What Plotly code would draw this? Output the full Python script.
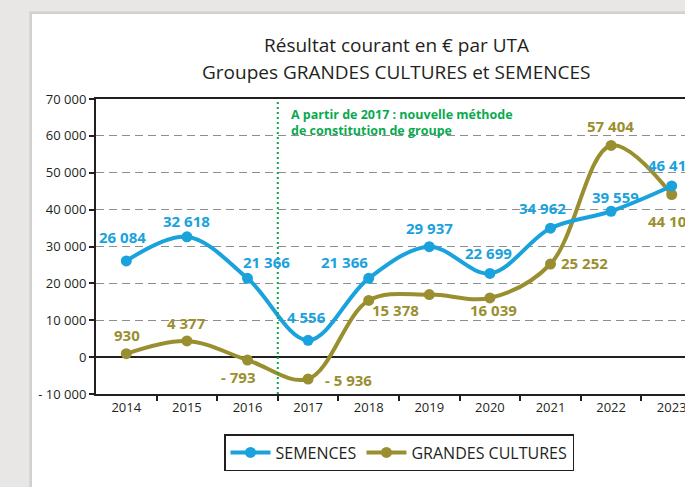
import plotly.graph_objects as go

# data
years = [2014, 2015, 2016, 2017, 2018, 2019, 2020, 2021, 2022, 2023]
semences = [26084, 32618, 21366, 4556, 21366, 29937, 22699, 34962, 39559, 46414]
grandes_cultures = [930, 4377, -793, -5936, 15378, 16950, 16039, 25252, 57404, 44103]
semences_labels = ["26 084", "32 618", "21 366", "4 556", "21 366",
                   "29 937", "22 699", "34 962", "39 559", "46 414"]
gc_labels = ["930", "4 377", "- 793", "- 5 936", "15 378",
             "", "16 039", "25 252", "57 404", "44 103"]
y_tickvals = [-10000, 0, 10000, 20000, 30000, 40000, 50000, 60000, 70000]
y_ticktext = ["- 10 000", "0", "10 000", "20 000", "30 000",
              "40 000", "50 000", "60 000", "70 000"]

BLUE = "#1aa2dc"
OLIVE = "#9a8f30"
GREEN = "#09aa4f"
INK = "#231f20"
FONT = "Open Sans"

# pixel geometry of the plot area
W, H = 685, 487
LEFT, TOP, BOTTOM = 96, 99, 394
PLOT_W = W - LEFT
PLOT_H = BOTTOM - TOP
BAND = 60.6


def px_x(px):
    return (px - LEFT) / PLOT_W


def px_y(py):
    return (BOTTOM - py) / PLOT_H


# label offsets (dx, dy) in pixels from each marker
sem_offsets = [(-4, -24), (0, -16), (19, -16), (-2, -23), (-24, -16),
               (0, -19), (-1, -20), (-8, -20), (4, -14), (0, -21)]
gc_offsets = [(1, -19), (0, -18), (-10, 17), (40, 1), (27, 10),
              (0, 0), (4, 12), (34, -1), (-1, -19), (0, 26)]

x_range = [years[0] - 0.5, years[0] - 0.5 + PLOT_W / BAND]
boundaries = [y + 0.5 for y in years[:-1]]
zero_pos = (0 - y_tickvals[0]) / (y_tickvals[-1] - y_tickvals[0])

fig = go.Figure()

fig.add_trace(go.Scatter(
    x=years, y=grandes_cultures, name="GRANDES CULTURES",
    mode="lines+markers", line=dict(color=OLIVE, width=4, shape="spline", smoothing=1),
    marker=dict(size=11, color=OLIVE), legendrank=2, hoverinfo="skip"))
fig.add_trace(go.Scatter(
    x=years, y=semences, name="SEMENCES",
    mode="lines+markers", line=dict(color=BLUE, width=4, shape="spline", smoothing=1),
    marker=dict(size=11, color=BLUE), legendrank=1, hoverinfo="skip"))

annotations = []
for x, v, t, (dx, dy) in zip(years, semences, semences_labels, sem_offsets):
    annotations.append(dict(x=x, y=v, text=t, showarrow=False, xshift=dx, yshift=-dy,
                            font=dict(family=FONT, size=15, color=BLUE, weight="bold")))
for x, v, t, (dx, dy) in zip(years, grandes_cultures, gc_labels, gc_offsets):
    if t:
        annotations.append(dict(x=x, y=v, text=t, showarrow=False, xshift=dx, yshift=-dy,
                                font=dict(family=FONT, size=15, color=OLIVE, weight="bold")))

# title
annotations.append(dict(xref="paper", yref="paper", x=px_x(396), y=px_y(45),
                        text="Résultat courant en € par UTA", showarrow=False,
                        xanchor="center", yanchor="middle",
                        font=dict(family=FONT, size=19, color=INK)))
annotations.append(dict(xref="paper", yref="paper", x=px_x(396), y=px_y(72),
                        text="Groupes GRANDES CULTURES et SEMENCES", showarrow=False,
                        xanchor="center", yanchor="middle",
                        font=dict(family=FONT, size=19, color=INK)))
# method note
annotations.append(dict(xref="paper", yref="paper", x=px_x(289), y=px_y(104),
                        text="A partir de 2017 : nouvelle méthode<br>de constitution de groupe",
                        showarrow=False, xanchor="left", yanchor="top", align="left",
                        font=dict(family=FONT, size=12.5, color=GREEN, weight="bold")))

shapes = [
    # card shadow and white card
    dict(type="rect", xref="paper", yref="paper", layer="below",
         x0=px_x(29), x1=px_x(W + 20), y0=px_y(H + 20), y1=px_y(11),
         fillcolor="#d9d8d6", line=dict(width=0)),
    dict(type="rect", xref="paper", yref="paper", layer="below",
         x0=px_x(30.5), x1=px_x(W + 20), y0=px_y(H + 20), y1=px_y(12.5),
         fillcolor="#cfcecc", line=dict(width=0)),
    dict(type="rect", xref="paper", yref="paper", layer="below",
         x0=px_x(32), x1=px_x(W + 20), y0=px_y(H + 20), y1=px_y(14),
         fillcolor="white", line=dict(width=0)),
    # method change divider
    dict(type="line", xref="x", yref="y",
         x0=(years[2] + years[3]) / 2, x1=(years[2] + years[3]) / 2,
         y0=y_tickvals[0], y1=y_tickvals[-1],
         line=dict(color=GREEN, width=2, dash="2px,3px")),
]

fig.update_layout(
    width=W, height=H,
    margin=dict(l=LEFT, r=0, t=TOP, b=H - BOTTOM, autoexpand=False),
    paper_bgcolor="#e8e7e5",
    plot_bgcolor="white",
    font=dict(family=FONT, color=INK),
    annotations=annotations,
    shapes=shapes,
    showlegend=True,
    legend=dict(orientation="h", x=px_x(399), y=px_y(434), xanchor="center", yanchor="top",
                bordercolor=INK, borderwidth=1.5, bgcolor="white",
                font=dict(family=FONT, size=16, color=INK), itemwidth=40),
    xaxis=dict(
        range=x_range, tickmode="array", tickvals=years, ticktext=[str(y) for y in years],
        ticks="", showgrid=False, zeroline=False, ticklabeloverflow="allow",
        showline=True, linecolor=INK, linewidth=2, mirror=True,
        tickfont=dict(family=FONT, size=13, color=INK),
        minor=dict(tickmode="array", tickvals=boundaries, ticks="outside",
                   ticklen=5, tickwidth=2, tickcolor=INK, showgrid=False),
    ),
    xaxis2=dict(
        overlaying="x", anchor="free", position=zero_pos,
        range=x_range, showticklabels=False, showgrid=False, zeroline=False, showline=False,
        tickmode="array", tickvals=boundaries, ticks="outside", ticklen=4, tickwidth=2, tickcolor=INK,
        side="bottom",
    ),
    xaxis3=dict(
        overlaying="x", anchor="free", position=zero_pos,
        range=x_range, showticklabels=False, showgrid=False, zeroline=False, showline=False,
        tickmode="array", tickvals=boundaries, ticks="outside", ticklen=4, tickwidth=2, tickcolor=INK,
        side="top",
    ),
    yaxis=dict(
        range=[y_tickvals[0], y_tickvals[-1]], tickmode="array",
        tickvals=y_tickvals, ticktext=y_ticktext,
        ticks="outside", ticklen=5, tickwidth=2, tickcolor=INK,
        showline=True, linecolor=INK, linewidth=2,
        showgrid=True, gridcolor="#8e8e8e", gridwidth=1.2, griddash="8px,5px",
        zeroline=True, zerolinecolor=INK, zerolinewidth=2,
        tickfont=dict(family=FONT, size=13, color=INK),
    ),
)

# the page's default body margin would push the figure 8px down and right
fig.write_html("out.html", config={"displayModeBar": False},
               post_script="document.body.style.margin='0';")
